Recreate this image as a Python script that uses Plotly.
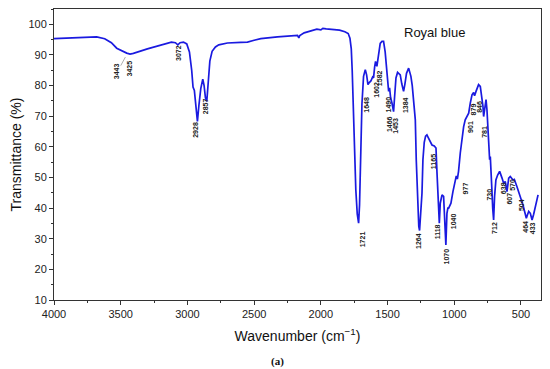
import plotly.graph_objects as go

wavenumber = [4000, 3900, 3800, 3720, 3680, 3620, 3570, 3530, 3490, 3455, 3430, 3405, 3300, 3200, 3120,
              3090, 3072, 3055, 3030, 3005, 2985, 2968, 2958, 2948, 2936, 2925, 2914, 2900, 2885, 2875,
              2865, 2855, 2845, 2832, 2815, 2790, 2765, 2700, 2600, 2550, 2500, 2450, 2325, 2175, 2165,
              2158, 2125, 2075, 2030, 2000, 1985, 1960, 1900, 1860, 1820, 1795, 1782, 1772, 1765, 1757,
              1748, 1738, 1727, 1717, 1710, 1702, 1692, 1680, 1667, 1657, 1647, 1637, 1625, 1612, 1605,
              1597, 1590, 1580, 1570, 1555, 1542, 1530, 1518, 1505, 1497, 1492, 1485, 1477, 1467, 1460,
              1455, 1447, 1437, 1425, 1412, 1405, 1393, 1380, 1370, 1358, 1342, 1333, 1325, 1315, 1305,
              1292, 1285, 1275, 1266, 1260, 1252, 1242, 1235, 1225, 1215, 1205, 1195, 1180, 1167, 1150,
              1137, 1130, 1120, 1112, 1105, 1092, 1080, 1072, 1063, 1055, 1048, 1042, 1034, 1025, 1010,
              1000, 992, 985, 977, 968, 955, 942, 930, 918, 905, 892, 880, 867, 855, 848,
              837, 830, 818, 805, 792, 785, 780, 773, 762, 755, 743, 735, 730, 725, 718,
              712, 705, 698, 688, 675, 660, 642, 630, 618, 605, 592, 580, 560, 550, 530,
              512, 498, 485, 475, 460, 450, 442, 430, 417, 405, 392, 372]
transmittance = [95.3, 95.5, 95.7, 96.0, 95.9, 95.3, 94.0, 92.2, 91.2, 90.6, 90.3, 90.5, 92.0, 93.3, 94.2,
                 94.0, 93.3, 94.0, 94.2, 93.6, 91.0, 85.0, 79.5, 78.4, 73.0, 68.3, 73.5, 79.0, 82.1, 80.0,
                 76.0, 74.8, 80.5, 88.0, 91.2, 92.6, 93.3, 93.9, 94.1, 94.2, 94.8, 95.3, 95.9, 96.4, 95.6,
                 96.3, 97.2, 97.8, 98.4, 98.2, 98.7, 98.5, 98.4, 98.1, 97.6, 97.0, 95.5, 92.0, 85.0, 72.0,
                 58.0, 46.0, 38.0, 35.1, 41.0, 58.0, 74.0, 83.0, 85.2, 83.5, 80.3, 81.0, 81.5, 82.8, 82.5,
                 86.0, 87.9, 86.3, 90.0, 93.8, 94.4, 94.4, 91.0, 85.2, 81.0, 78.1, 79.3, 76.0, 74.3, 73.0,
                 71.5, 76.5, 82.5, 84.3, 83.8, 83.5, 80.5, 78.1, 80.5, 84.0, 85.7, 84.5, 83.0, 80.0, 75.0,
                 68.8, 55.8, 42.0, 34.0, 32.7, 37.0, 44.9, 55.8, 61.5, 63.5, 63.9, 63.0, 61.7, 60.6, 60.3,
                 59.6, 52.0, 39.4, 35.1, 41.6, 44.3, 43.8, 36.0, 28.0, 38.3, 40.0, 40.0, 41.0, 41.6, 45.4,
                 47.5, 49.5, 50.5, 49.5, 52.0, 58.0, 63.0, 66.5, 68.8, 69.9, 71.0, 74.3, 77.0, 77.7, 76.7,
                 78.1, 78.9, 80.3, 79.7, 76.4, 73.2, 69.9, 72.1, 75.4, 72.1, 59.0, 55.8, 56.8, 53.6, 46.0,
                 40.0, 36.1, 43.8, 49.2, 50.8, 52.0, 49.8, 48.1, 48.7, 45.4, 49.8, 50.3, 49.2, 49.4, 47.0,
                 44.9, 42.7, 41.0, 39.4, 36.7, 38.0, 38.9, 38.3, 36.1, 38.0, 40.5, 44.3]

peak_labels = ["3443", "3425", "3072", "2928", "2857", "1721", "1648", "1602", "1582", "1490",
               "1466", "1453", "1384", "1264", "1165", "1118", "1070", "1040", "977", "901",
               "879", "846", "781", "730", "712", "638", "607", "570", "504", "464", "433"]
label_x = [3530, 3435, 3072, 2935, 2862, 1692, 1655, 1580, 1555, 1492,
           1480, 1437, 1360, 1268, 1155, 1125, 1055, 1005, 918, 880,
           855, 812, 775, 735, 698, 635, 588, 560, 500, 468, 418]
label_y = [84.6, 85.7, 90.6, 65.6, 73.2, 29.8, 73.7, 78.6, 82.5, 73.7,
           67.5, 66.9, 73.7, 29.1, 55.2, 32.3, 24.2, 35.6, 46.5, 66.6,
           72.1, 73.2, 65.0, 44.3, 33.4, 46.5, 43.2, 47.6, 41.0, 34.0, 33.4]

x_ticks = [4000, 3500, 3000, 2500, 2000, 1500, 1000, 500]
y_ticks = [10, 20, 30, 40, 50, 60, 70, 80, 90, 100]

fig = go.Figure()
fig.add_trace(go.Scatter(x=wavenumber, y=transmittance, mode="lines",
                         line=dict(color="#1a1ae0", width=1.7), hoverinfo="skip"))

for t, lx, ly in zip(peak_labels, label_x, label_y):
    fig.add_annotation(x=lx, y=ly, text="<b>" + t + "</b>", textangle=-90, showarrow=False,
                       font=dict(family="Liberation Sans", size=7, color="#222"))

# thin leader line for the 3443 label
fig.add_shape(type="line", x0=3500, y0=86.5, x1=3465, y1=89.3, xref="x", yref="y",
              line=dict(color="#999", width=0.8))

fig.add_annotation(x=0.848, y=0.952, xref="paper", yref="paper", text="Royal blue",
                   showarrow=False, font=dict(family="Liberation Sans", size=13, color="#111"))
fig.add_annotation(x=0.458, y=-0.21, xref="paper", yref="paper", yanchor="middle",
                   text="<b>(a)</b>", showarrow=False,
                   font=dict(family="Liberation Serif", size=11, color="#111"))

axis_common = dict(showline=True, mirror=True, linecolor="#333", linewidth=1, automargin=False,
                   ticks="outside", ticklen=4, tickcolor="#333", showgrid=False, zeroline=False,
                   tickfont=dict(family="Liberation Sans", size=11, color="#222"))

fig.update_xaxes(range=[4000, 350], tickvals=x_ticks,
                 minor=dict(dtick=250, ticks="outside", ticklen=2, tickcolor="#333", showgrid=False),
                 title=dict(text="Wavenumber (cm<sup>−1</sup>)", standoff=11,
                            font=dict(family="Liberation Sans", size=14, color="#111")),
                 **axis_common)
fig.update_yaxes(range=[10, 105], tickvals=y_ticks,
                 minor=dict(dtick=5, ticks="outside", ticklen=2, tickcolor="#333", showgrid=False),
                 title=dict(text="Transmittance (%)", standoff=7,
                            font=dict(family="Liberation Sans", size=14, color="#111")),
                 **axis_common)

# the page body adds an 8px margin, so the figure is sized to fill the rest of the window
fig.update_layout(width=542, height=361, margin=dict(l=46, r=9, t=1, b=69),
                  paper_bgcolor="white", plot_bgcolor="white", showlegend=False)

fig.write_html("out.html")
